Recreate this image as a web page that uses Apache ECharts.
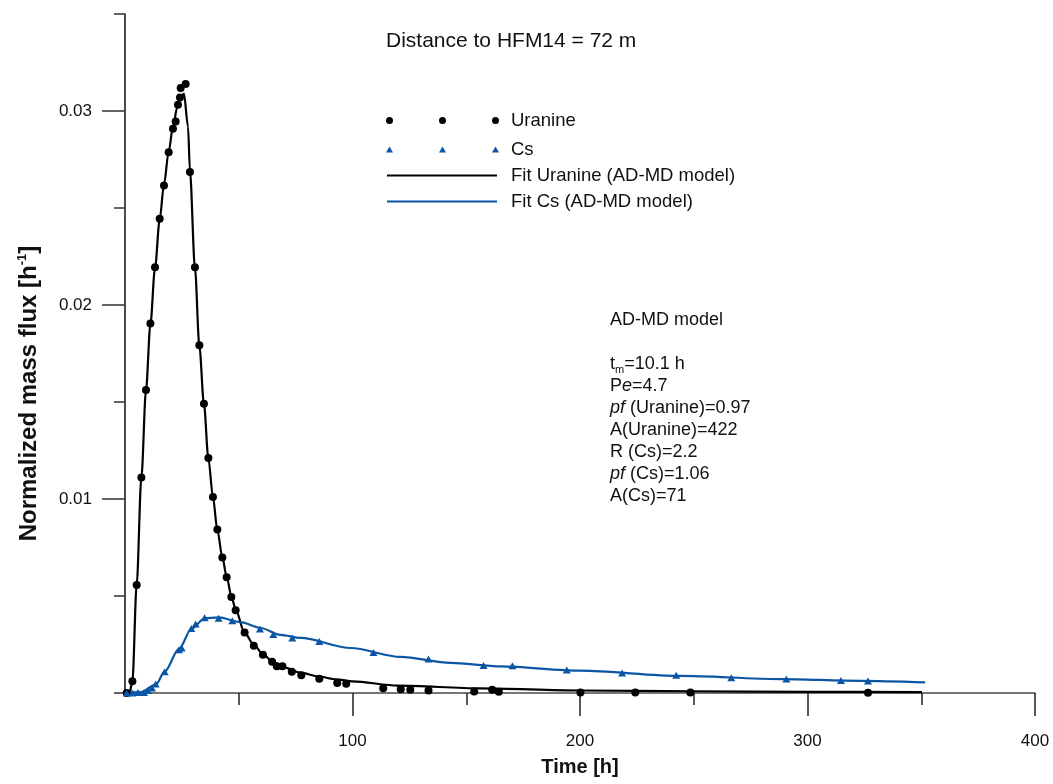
<!DOCTYPE html>
<html><head><meta charset="utf-8">
<script src="https://cdn.jsdelivr.net/npm/echarts@6/dist/echarts.min.js"></script>
<style>html,body{margin:0;padding:0;background:#fff}#c{width:1053px;height:784px}</style>
</head><body><div id="c"></div>
<script>
// ---- data ----
const uranineTime = [0.75, 3.25, 5.14, 7.2, 9.22, 11.16, 13.18, 15.24, 17.13, 19.2, 21.08, 22.27, 23.28, 24.16, 24.47, 26.66, 28.55, 30.75, 32.68, 34.7, 36.64, 38.66, 40.59, 42.79, 44.67, 46.74, 48.63, 52.58, 56.62, 60.62, 64.66, 66.72, 69.19, 73.31, 77.49, 85.4, 93.3, 97.25, 113.5, 121.2, 125.4, 133.4, 153.5, 161.4, 164.3, 200.2, 224.3, 248.5, 326.6];
const uranineFlux = [0, 0.0006, 0.00557, 0.01111, 0.01562, 0.01904, 0.02194, 0.02445, 0.02616, 0.02787, 0.02909, 0.02946, 0.03032, 0.0307, 0.03119, 0.03139, 0.02686, 0.02194, 0.01792, 0.01491, 0.01211, 0.0101, 0.00843, 0.00699, 0.00597, 0.00495, 0.00426, 0.00312, 0.00244, 0.00197, 0.00161, 0.00138, 0.00138, 0.0011, 0.00091, 0.00074, 0.00052, 0.00048, 0.00024, 0.00019, 0.00017, 0.00013, 0.00008, 0.00017, 0.00007, 0.00003, 0.00003, 0.00003, 0.00001];

const csTime = [0.75, 3.25, 5.71, 8.35, 10.1, 11.86, 13.49, 17.44, 23.72, 24.91, 29.17, 31.06, 35.01, 41.16, 47.18, 59.3, 65.19, 73.53, 85.4, 109.2, 133.4, 157.6, 170.3, 194.2, 218.5, 242.3, 266.5, 290.7, 314.7, 326.6];
const csFlux = [0, 0, 0.00002, 0.00002, 0.00013, 0.00026, 0.00046, 0.0011, 0.00223, 0.00232, 0.00333, 0.00356, 0.00388, 0.00385, 0.00373, 0.0033, 0.00301, 0.00284, 0.00266, 0.00209, 0.00175, 0.00142, 0.00141, 0.00119, 0.00103, 0.00091, 0.00079, 0.00072, 0.00065, 0.00062];

const fitUTime = [0, 2.0, 3.25, 5.14, 7.2, 9.22, 11.16, 13.18, 15.24, 17.13, 19.2, 21.08, 23.0, 24.6, 25.9, 27.7, 28.55, 30.75, 32.68, 34.7, 36.64, 38.66, 40.59, 42.79, 44.67, 46.74, 48.63, 52.58, 56.6, 60.6, 65, 70, 77, 85, 93, 100, 120, 156, 200, 250, 300, 350.3];
const fitUFlux = [0, 0.00002, 0.0006, 0.0056, 0.0111, 0.0156, 0.019, 0.0219, 0.0244, 0.0262, 0.0279, 0.0292, 0.0302, 0.0307, 0.0309, 0.0292, 0.0269, 0.0219, 0.0179, 0.0149, 0.0121, 0.0101, 0.0084, 0.007, 0.006, 0.005, 0.0043, 0.0031, 0.0025, 0.002, 0.0016, 0.00132, 0.00105, 0.00085, 0.0007, 0.0006, 0.00038, 0.00024, 0.00013, 0.00009, 0.00006, 0.00005];

const fitCsTime = [0, 6.9, 13.5, 17.44, 23.72, 29.17, 35.0, 41.16, 50.8, 59.6, 68.4, 77.2, 99.1, 121.1, 143.1, 165.0, 200.2, 244.1, 288.0, 323.2, 351.7];
const fitCsFlux = [0, 0.00004, 0.00043, 0.0011, 0.00227, 0.0033, 0.00385, 0.0039, 0.00365, 0.00335, 0.003, 0.00284, 0.00232, 0.00186, 0.00155, 0.00137, 0.00115, 0.00088, 0.00072, 0.00063, 0.00055];

const xTickLabels = [100, 200, 300, 400];
const yTickLabels = [0.01, 0.02, 0.03];

const titleText = 'Distance to HFM14 = 72 m';
const annotationLines = [
  'AD-MD model',
  '',
  't{sub|m}=10.1 h',
  'P{i|e}=4.7',
  '{i|pf} (Uranine)=0.97',
  'A(Uranine)=422',
  'R (Cs)=2.2',
  '{i|pf} (Cs)=1.06',
  'A(Cs)=71'
];

// ---- chart ----
const FONT = '"Liberation Sans", Arial, sans-serif';
const BLUE = '#0b56a4';
const zip = (a, b) => a.map((v, i) => [v, b[i]]);

const dotsIcon = 'path://M0,3.5A3.5,3.5,0,1,0,7,3.5A3.5,3.5,0,1,0,0,3.5Z M53,3.5A3.5,3.5,0,1,0,60,3.5A3.5,3.5,0,1,0,53,3.5Z M106,3.5A3.5,3.5,0,1,0,113,3.5A3.5,3.5,0,1,0,106,3.5Z';
const trisIcon = 'path://M0,7L3.5,1L7,7Z M53,7L56.5,1L60,7Z M106,7L109.5,1L113,7Z';
const lineIcon = 'path://M0,0H110V2H0Z';

const chart = echarts.init(document.getElementById('c'), null, {renderer: 'canvas'});
chart.setOption({
  animation: false,
  backgroundColor: '#fff',
  textStyle: {fontFamily: FONT},
  title: {
    text: titleText, left: 386, top: 31, padding: 0,
    textStyle: {fontFamily: FONT, fontSize: 21, fontWeight: 'normal', color: '#111'}
  },
  grid: {left: 125, right: 18, top: 14, bottom: 91, containLabel: false},
  legend: [
    {
      orient: 'vertical', left: 386, top: 111, padding: 0, itemGap: 10,
      itemWidth: 113, itemHeight: 7, selectedMode: false,
      itemStyle: {borderWidth: 0, opacity: 1},
      textStyle: {fontFamily: FONT, fontSize: 18.5, color: '#111', padding: [0, 0, 0, 7]},
      data: [{name: 'Uranine', icon: dotsIcon}, {name: 'Cs', icon: trisIcon}]
    },
    {
      orient: 'vertical', left: 387, top: 166, padding: 0, itemGap: 7,
      itemWidth: 110, itemHeight: 2, selectedMode: false,
      itemStyle: {borderWidth: 0, opacity: 1},
      textStyle: {fontFamily: FONT, fontSize: 18.5, color: '#111', padding: [0, 0, 0, 9]},
      data: [{name: 'Fit Uranine (AD-MD model)', icon: lineIcon}, {name: 'Fit Cs (AD-MD model)', icon: lineIcon}]
    }
  ],
  xAxis: {
    type: 'value', min: 0, max: 400, interval: 100,
    axisLine: {lineStyle: {color: '#4a4a4a', width: 1.5}},
    axisTick: {length: 23, customValues: xTickLabels, lineStyle: {color: '#222', width: 1.5}},
    minorTick: {show: true, splitNumber: 2, length: 12, lineStyle: {color: '#222', width: 1.5}},
    axisLabel: {customValues: xTickLabels, margin: 40, fontSize: 17, color: '#111', fontFamily: FONT},
    splitLine: {show: false},
    name: 'Time [h]', nameLocation: 'middle', nameGap: 64,
    nameTextStyle: {fontFamily: FONT, fontSize: 20, fontWeight: 'bold', color: '#111'}
  },
  yAxis: [
    {
      type: 'value', min: 0, max: 0.035, interval: 0.005, position: 'left',
      axisLine: {show: true, lineStyle: {color: '#111', width: 1.5}},
      axisTick: {length: 11, lineStyle: {color: '#333', width: 1.5}},
      axisLabel: {show: false},
      splitLine: {show: false},
      name: 'Normalized mass flux [h{sup|-1}]', nameLocation: 'middle', nameGap: 83, nameRotate: 90,
      nameTextStyle: {
        fontFamily: FONT, fontSize: 24, fontWeight: 'bold', color: '#111', padding: [0, 80, 0, 0],
        rich: {sup: {fontFamily: FONT, fontSize: 13, fontWeight: 'bold', color: '#111', verticalAlign: 'top', lineHeight: 26}}
      }
    },
    {
      type: 'value', min: 0, max: 0.035, interval: 0.005, position: 'left',
      axisLine: {show: false},
      axisTick: {length: 23, customValues: yTickLabels, lineStyle: {color: '#333', width: 1.5}},
      axisLabel: {customValues: yTickLabels, margin: 33, fontSize: 17, color: '#111', fontFamily: FONT,
        formatter: v => v.toFixed(2)},
      splitLine: {show: false}
    }
  ],
  graphic: [{
    type: 'text', left: 610, top: 309,
    style: {
      text: annotationLines.join('\n'),
      font: '18px ' + FONT, fill: '#111', lineHeight: 22,
      rich: {
        sub: {fontSize: 11, fontFamily: FONT, fill: '#111', verticalAlign: 'bottom', lineHeight: 22},
        i: {fontSize: 18, fontFamily: FONT, fontStyle: 'italic', fill: '#111', lineHeight: 22}
      }
    }
  }],
  series: [
    {
      name: 'Fit Uranine (AD-MD model)', type: 'line', data: zip(fitUTime, fitUFlux),
      showSymbol: false, symbol: 'none', smooth: 0.3, smoothMonotone: 'x',
      color: '#000', lineStyle: {color: '#000', width: 2.2}, z: 2
    },
    {
      name: 'Fit Cs (AD-MD model)', type: 'line', data: zip(fitCsTime, fitCsFlux),
      showSymbol: false, symbol: 'none', smooth: 0.3, smoothMonotone: 'x',
      color: BLUE, lineStyle: {color: BLUE, width: 2.2}, z: 2
    },
    {
      name: 'Uranine', type: 'scatter', data: zip(uranineTime, uranineFlux),
      symbol: 'circle', symbolSize: 8, color: '#000', itemStyle: {color: '#000', opacity: 1}, z: 3
    },
    {
      name: 'Cs', type: 'scatter', data: zip(csTime, csFlux),
      symbol: 'triangle', symbolSize: [8, 7], color: BLUE, itemStyle: {color: BLUE, opacity: 1}, z: 3
    }
  ]
});
</script>
</body></html>
